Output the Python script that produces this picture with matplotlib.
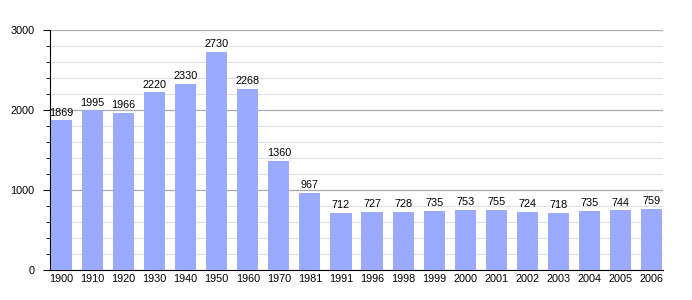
import matplotlib
matplotlib.use("Agg")
import matplotlib.pyplot as plt
from matplotlib.ticker import MultipleLocator

years = ["1900", "1910", "1920", "1930", "1940", "1950", "1960", "1970", "1981", "1991",
         "1996", "1998", "1999", "2000", "2001", "2002", "2003", "2004", "2005", "2006"]
population = [1869, 1995, 1966, 2220, 2330, 2730, 2268, 1360, 967, 712,
              727, 728, 735, 753, 755, 724, 718, 735, 744, 759]

plt.rcParams['font.family'] = ['Liberation Sans', 'DejaVu Sans']

fig = plt.figure(figsize=(6.92, 3.0), dpi=100)
ax = fig.add_axes([50/692, 30/300, 613/692, 240/300])

x = list(range(len(years)))
bars = ax.bar(x, population, width=0.68, color='#99aaff', zorder=3)
for xi, v in zip(x, population):
    ax.text(xi, v + 35, str(v), ha='center', va='bottom', fontsize=7.8, color='black', zorder=4)

ax.set_xlim(-0.37, len(years) - 1 + 0.37)
ax.set_ylim(0, 3000)
ax.set_xticks(x)
ax.set_xticklabels(years, fontsize=7.8)
ax.yaxis.set_major_locator(MultipleLocator(1000))
ax.yaxis.set_minor_locator(MultipleLocator(200))
ax.tick_params(axis='y', which='major', length=5, labelsize=7.8, pad=6)
ax.tick_params(axis='y', which='minor', length=3)
ax.tick_params(axis='x', length=0, labelsize=7.8, pad=3)

ax.grid(axis='y', which='major', color='#aaaaaa', linewidth=0.9, zorder=0)
ax.grid(axis='y', which='minor', color='#e0e0e0', linewidth=0.8, zorder=0)
ax.set_axisbelow(True)

for s in ['top', 'right']:
    ax.spines[s].set_visible(False)
ax.spines['left'].set_color('black')
ax.spines['bottom'].set_color('black')

fig.savefig('out.png', dpi=100)
